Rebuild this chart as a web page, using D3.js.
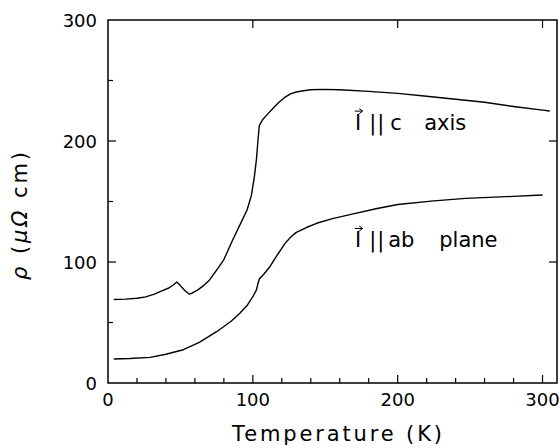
<!DOCTYPE html>
<html><head><meta charset="utf-8">
<script src="https://cdn.jsdelivr.net/npm/d3@7"></script>
<style>
html,body{margin:0;padding:0;background:#fff;}
text{font-family:"DejaVu Sans",sans-serif;fill:#000;}
</style></head>
<body><svg id="c" width="560" height="448"></svg>
<script>
// ---- data ----
const cAxisT   = [4, 12, 20, 26, 32, 38, 42, 45, 47.5, 50, 53, 56, 58, 62, 66, 70, 76, 80, 86, 90, 96, 99, 101, 102.5, 103.5, 104.5, 107, 110, 114, 118, 122, 126, 130, 135, 140, 148, 160, 180, 200, 220, 240, 260, 280, 300, 305];
const cAxisRho = [69, 69.3, 70, 71.2, 73.5, 76.5, 78.5, 81, 83.5, 80.5, 76.5, 73.5, 74.2, 77, 80.5, 85, 95, 102, 118, 128, 143, 155, 170, 185, 200, 213, 218, 222, 227, 232, 236, 239, 240.5, 241.5, 242.3, 242.7, 242.3, 241, 239.4, 237, 234.5, 232, 228.5, 225.5, 224.8];
const abT   = [4, 15, 29, 40, 52, 63, 75, 85, 91, 96, 100, 102.5, 103.5, 104.5, 108, 112, 117, 122, 126, 130, 137, 144, 155, 167, 185, 200, 225, 247, 275, 300];
const abRho = [19.8, 20.2, 21.2, 23.8, 27.5, 33.5, 42.4, 51, 57.6, 64, 71.3, 77, 82, 86, 90.5, 96.5, 106, 115, 120.5, 124.5, 128.5, 132, 135.8, 139.2, 144, 147.5, 150.5, 152.6, 154, 155.4];
const xTickLabels = [0, 100, 200, 300];
const yTickLabels = [0, 100, 200, 300];
const xMinorTicks = d3.range(0, 301, 20);
const yMinorTicks = d3.range(0, 301, 50);
const seriesWords = [["c", "axis"], ["ab", "plane"]];
const labelAnchors = [[170, 209], [170, 112]];

// ---- layout ----
const svg = d3.select("#c");
const L = 108, R = 557, T = 20, B = 383;
const x = d3.scaleLinear().domain([0, 310]).range([L, R]);
const y = d3.scaleLinear().domain([0, 300]).range([B, T]);

// frame
svg.append("rect").attr("x", L).attr("y", T).attr("width", R - L).attr("height", B - T)
  .attr("fill", "none").attr("stroke", "#000").attr("stroke-width", 1.5);

// bottom ticks (inward, minor every 20)
xMinorTicks.filter(v => v > 0).forEach(v => {
  const maj = v % 100 === 0;
  svg.append("line").attr("x1", x(v)).attr("x2", x(v)).attr("y1", B).attr("y2", B - (maj ? 8 : 5))
    .attr("stroke", "#000").attr("stroke-width", 1.2);
});
// top ticks (major only)
xTickLabels.filter(v => v > 0).forEach(v => {
  svg.append("line").attr("x1", x(v)).attr("x2", x(v)).attr("y1", T).attr("y2", T + 8)
    .attr("stroke", "#000").attr("stroke-width", 1.2);
});
// left ticks (minor every 50)
yMinorTicks.filter(v => v > 0 && v < 300).forEach(v => {
  const maj = v % 100 === 0;
  svg.append("line").attr("x1", L).attr("x2", L + (maj ? 8 : 5)).attr("y1", y(v)).attr("y2", y(v))
    .attr("stroke", "#000").attr("stroke-width", 1.2);
});
// right ticks (major only)
yTickLabels.filter(v => v > 0 && v < 300).forEach(v => {
  svg.append("line").attr("x1", R).attr("x2", R - 8).attr("y1", y(v)).attr("y2", y(v))
    .attr("stroke", "#000").attr("stroke-width", 1.2);
});

// tick labels
svg.append("g").selectAll("text").data(xTickLabels).join("text")
  .attr("x", d => x(d)).attr("y", 406).attr("text-anchor", "middle")
  .attr("font-size", 18).text(d => d);
svg.append("g").selectAll("text").data(yTickLabels).join("text")
  .attr("x", 97).attr("y", d => y(d) + 7).attr("text-anchor", "end")
  .attr("font-size", 18).text(d => d);

// axis titles
svg.append("text").attr("x", 337).attr("y", 441).attr("text-anchor", "middle")
  .attr("font-size", 21).attr("textLength", 210).attr("lengthAdjust", "spacing")
  .text("Temperature  (K)");
const yl = svg.append("text").attr("transform", "translate(27,216) rotate(-90)")
  .attr("text-anchor", "middle").attr("font-size", 21).attr("textLength", 128).attr("lengthAdjust", "spacing");
yl.append("tspan").attr("font-style", "italic").text("ρ");
yl.append("tspan").text("  (");
yl.append("tspan").attr("font-style", "italic").text("μΩ");
yl.append("tspan").text("  cm)");

// curves
const line = d3.line().x(d => x(d[0])).y(d => y(d[1])).curve(d3.curveLinear);
svg.append("path").datum(d3.zip(cAxisT, cAxisRho)).attr("d", line)
  .attr("fill", "none").attr("stroke", "#000").attr("stroke-width", 1.4).attr("stroke-linejoin", "round");
svg.append("path").datum(d3.zip(abT, abRho)).attr("d", line)
  .attr("fill", "none").attr("stroke", "#000").attr("stroke-width", 1.4).attr("stroke-linejoin", "round");

// series labels: I-vector || label
seriesWords.forEach((w, i) => {
  const ax = x(labelAnchors[i][0]), ay = y(labelAnchors[i][1]);
  const g = svg.append("g");
  g.append("text").attr("x", ax + 4).attr("y", ay).attr("text-anchor", "middle")
    .attr("font-family", "DejaVu Sans Mono").attr("font-size", 21).text("I");
  g.append("line").attr("x1", ax + 0.5).attr("x2", ax + 8).attr("y1", ay - 19).attr("y2", ay - 19)
    .attr("stroke", "#000").attr("stroke-width", 1);
  g.append("path").attr("d", `M${ax + 5},${ay - 21.5} L${ax + 8.5},${ay - 19} L${ax + 5},${ay - 16.5}`)
    .attr("fill", "none").attr("stroke", "#000").attr("stroke-width", 1);
  g.append("text").attr("x", ax + 15).attr("y", ay).attr("font-size", 21).attr("letter-spacing", 1).text("||");
  const t = g.append("text").attr("y", ay).attr("font-size", 21);
  if (i === 0) {
    t.append("tspan").attr("x", ax + 36).text(w[0]);
    t.append("tspan").attr("x", ax + 70).text(w[1]);
  } else {
    t.append("tspan").attr("x", ax + 34).text(w[0]);
    t.append("tspan").attr("x", ax + 85).text(w[1]);
  }
});
</script></body></html>
